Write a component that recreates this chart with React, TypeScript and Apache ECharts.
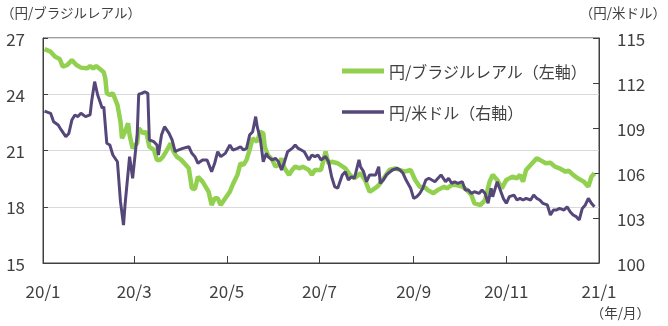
import React, { useEffect, useRef } from "react";
import * as echarts from "echarts";

const FONT = "'Noto Sans CJK JP', 'Noto Sans', sans-serif";
const TEXT = "#404040";

const brlName = "円/ブラジルレアル（左軸）";
const usdName = "円/米ドル（右軸）";

const xTickLabels = ["20/1", "20/3", "20/5", "20/7", "20/9", "20/11", "21/1"];

const brlDates = [
  "01-02","01-06","01-09","01-12","01-14","01-17","01-20","01-23","01-26","01-30",
  "02-01","02-03","02-05","02-07","02-10","02-11","02-12","02-14","02-16","02-19",
  "02-21","02-22","02-24","02-26","02-27","02-29","03-03","03-04","03-07","03-09",
  "03-11","03-14","03-16","03-18","03-20","03-22","03-25","03-27","03-29","04-01",
  "04-03","04-06","04-08","04-10","04-12","04-15","04-17","04-19","04-21","04-23",
  "04-25","04-27","04-30","05-03","05-05","05-08","05-10","05-12","05-14","05-16",
  "05-18","05-21","05-23","05-25","05-26","05-28","05-31","06-02","06-04","06-06",
  "06-08","06-11","06-13","06-15","06-18","06-20","06-24","06-26","06-28","06-30",
  "07-02","07-05","07-07","07-09","07-13","07-18","07-21","07-24","07-28","07-31",
  "08-03","08-05","08-08","08-10","08-13","08-16","08-20","08-23","08-26","08-30",
  "09-02","09-05","09-09","09-10","09-14","09-17","09-21","09-23","09-26","09-29",
  "10-03","10-06","10-09","10-11","10-15","10-18","10-21","10-23","10-26","10-29",
  "11-01","11-05","11-08","11-10","11-12","11-14","11-18","11-21","11-23","11-27",
  "11-30","12-03","12-06","12-10","12-12","12-15","12-18","12-22","12-25","12-27",
  "12-29",
];
const brlValues = [
  26.41,26.27,26.0,25.88,25.47,25.56,25.83,25.56,25.42,25.38,
  25.5,25.38,25.5,25.38,25.17,24.85,24.05,23.96,24.05,23.43,
  22.54,21.65,22.0,22.45,21.83,21.12,21.4,22.18,21.92,22.0,
  21.2,21.03,20.5,20.5,20.67,20.94,21.38,20.94,20.67,20.5,
  20.32,20.05,18.98,18.95,19.6,19.34,19.07,18.8,18.09,18.45,
  18.45,18.09,18.45,18.8,19.2,19.7,20.32,20.23,20.5,21.03,
  21.65,21.47,22.0,21.92,21.2,20.76,20.5,20.14,20.23,20.58,
  20.05,19.7,19.96,20.14,20.05,20.14,19.96,19.7,19.96,19.96,
  19.96,20.94,20.3,20.4,20.32,20.05,19.7,19.52,19.78,19.43,
  18.8,18.9,19.07,19.25,19.6,19.96,20.05,19.96,19.87,19.96,
  19.43,19.07,19.0,18.9,18.72,18.9,19.07,18.98,19.16,19.16,
  19.07,18.9,18.63,18.18,18.09,18.36,19.34,19.7,19.43,18.98,
  19.43,19.6,19.52,19.7,19.34,19.96,20.32,20.58,20.5,20.32,
  20.35,20.14,20.05,19.87,19.92,19.7,19.52,19.34,19.07,19.6,
  19.78,
];

const usdDates = [
  "01-02","01-06","01-08","01-11","01-13","01-16","01-18","01-20","01-22","01-24",
  "01-26","01-29","02-01","02-02","02-04","02-06","02-09","02-10","02-12","02-14",
  "02-16","02-19","02-21","02-23","02-24","02-27","02-29","03-03","03-04","03-06",
  "03-08","03-10","03-11","03-14","03-16","03-17","03-19","03-21","03-24","03-26",
  "03-28","03-30","04-02","04-06","04-08","04-10","04-12","04-15","04-18","04-21",
  "04-23","04-25","04-27","04-30","05-03","05-05","05-08","05-10","05-12","05-14",
  "05-16","05-18","05-20","05-21","05-23","05-25","05-27","05-28","05-31","06-02",
  "06-04","06-06","06-08","06-10","06-13","06-15","06-17","06-19","06-21","06-24",
  "06-26","06-28","06-30","07-02","07-05","07-07","07-09","07-11","07-13","07-16",
  "07-18","07-20","07-22","07-24","07-27","07-28","07-30","08-01","08-03","08-07",
  "08-09","08-10","08-12","08-14","08-18","08-21","08-23","08-25","08-27","08-30",
  "09-01","09-03","09-05","09-07","09-09","09-11","09-13","09-15","09-17","09-19",
  "09-22","09-24","09-26","09-28","09-30","10-03","10-05","10-07","10-09","10-11",
  "10-14","10-16","10-18","10-20","10-22","10-23","10-26","10-28","10-30","11-01",
  "11-03","11-06","11-08","11-10","11-12","11-14","11-17","11-19","11-21","11-23",
  "11-25","11-28","11-30","12-02","12-04","12-06","12-09","12-11","12-13","12-15",
  "12-17","12-19","12-21","12-23","12-25","12-27","12-29",
];
const usdValues = [
  110.13,109.98,109.42,109.2,108.87,108.42,108.64,109.53,109.87,109.76,
  109.98,109.76,109.87,110.76,112.09,111.2,110.31,110.42,107.98,107.87,
  107.2,106.75,104.09,102.53,103.87,107.09,105.65,108.53,111.25,111.31,
  111.42,111.31,108.2,108.09,107.87,107.2,108.53,109.09,108.64,108.2,
  107.42,107.53,107.64,107.75,107.31,107.09,106.65,106.87,106.87,106.09,
  106.65,107.42,107.09,107.31,107.87,107.53,107.64,107.75,107.53,107.64,
  108.53,108.75,109.76,109.09,108.31,106.75,107.31,107.09,106.87,106.98,
  106.75,106.2,106.75,107.42,107.64,107.87,107.64,107.53,107.42,106.87,
  107.2,107.09,107.2,106.87,107.1,106.75,105.75,105.09,104.98,105.87,
  106.09,105.53,105.75,105.65,106.87,106.42,106.09,105.42,105.87,105.87,
  106.42,105.31,105.53,105.87,106.2,106.31,106.2,105.98,105.53,104.98,
  104.31,104.42,104.64,104.98,105.53,105.65,105.53,105.42,105.65,105.87,
  105.42,105.65,105.31,105.42,105.31,105.42,104.87,104.87,104.64,104.75,
  104.64,104.87,104.64,103.98,104.98,104.42,105.42,104.87,104.31,103.98,
  104.42,104.53,104.2,104.31,104.2,104.31,104.2,104.53,104.31,104.2,
  103.98,103.87,103.2,103.53,103.53,103.64,103.53,103.75,103.42,103.2,
  103.09,102.87,103.64,103.87,104.31,103.98,103.75,
];

function buildDays(): string[] {
  const out: string[] = [];
  const start = Date.UTC(2020, 0, 1);
  const end = Date.UTC(2021, 0, 1);
  for (let t = start; t <= end; t += 86400000) {
    out.push(new Date(t).toISOString().slice(0, 10));
  }
  return out;
}

export default function App() {
  const ref = useRef<HTMLDivElement>(null);
  useEffect(() => {
    if (!ref.current) return;
    const chart = echarts.init(ref.current, null, { renderer: "svg" });
    const days = buildDays();
    const isTick = (_i: number, v: string) => {
      const m = parseInt(v.slice(5, 7), 10);
      return v.slice(8, 10) === "01" && m % 2 === 1;
    };
    const labelFor = (v: string) => {
      const y = v.slice(2, 4);
      const m = parseInt(v.slice(5, 7), 10);
      const s = `${y}/${m}`;
      return xTickLabels.includes(s) ? s : "";
    };
    const brlData = brlDates.map((d, i) => ["2020-" + d, brlValues[i]]);
    const usdData = usdDates.map((d, i) => ["2020-" + d, usdValues[i]]);

    chart.setOption({
      animation: false,
      textStyle: { fontFamily: FONT },
      grid: {
        left: 43,
        right: 69,
        top: 38,
        bottom: 63,
        show: true,
        borderColor: "#404040",
        borderWidth: 1,
      },
      legend: {
        orient: "vertical",
        left: 337,
        top: 58,
        itemWidth: 42,
        itemHeight: 16,
        itemGap: 25,
        itemStyle: { borderWidth: 0 },
        data: [
          { name: brlName, icon: "path://M0,0H42V5H0Z" },
          { name: usdName, icon: "path://M0,0H42V3.5H0Z" },
        ],
        textStyle: { fontSize: 16, color: TEXT, fontFamily: FONT, lineHeight: 16 },
      },
      xAxis: {
        type: "category",
        data: days,
        boundaryGap: false,
        axisLine: { lineStyle: { color: "#404040", width: 1 } },
        axisTick: { inside: true, length: 7, interval: isTick, lineStyle: { color: "#404040" } },
        axisLabel: {
          interval: isTick,
          formatter: labelFor,
          fontSize: 17,
          color: TEXT,
          margin: 19,
          fontFamily: FONT,
        },
        splitLine: { show: false },
      },
      yAxis: [
        {
          type: "value",
          min: 15,
          max: 27,
          interval: 3,
          position: "left",
          axisLine: { show: true, lineStyle: { color: "#404040" } },
          axisTick: { show: true, inside: true, length: 5, lineStyle: { color: "#404040" } },
          axisLabel: { fontSize: 17, color: TEXT, margin: 18, fontFamily: FONT },
          splitLine: { show: true, lineStyle: { color: "#d9d9d9", width: 1 } },
        },
        {
          type: "value",
          min: 100,
          max: 115,
          interval: 3,
          position: "right",
          axisLine: { show: true, lineStyle: { color: "#404040" } },
          axisTick: { show: true, inside: true, length: 6, lineStyle: { color: "#404040" } },
          axisLabel: { fontSize: 17, color: TEXT, margin: 18, fontFamily: FONT },
          splitLine: { show: false },
        },
      ],
      series: [
        {
          name: brlName,
          type: "line",
          yAxisIndex: 0,
          data: brlData,
          showSymbol: false,
          symbol: "none",
          lineStyle: { color: "#92D050", width: 4.5 },
          itemStyle: { color: "#92D050" },
        },
        {
          name: usdName,
          type: "line",
          yAxisIndex: 1,
          data: usdData,
          showSymbol: false,
          symbol: "none",
          lineStyle: { color: "#56477A", width: 3 },
          itemStyle: { color: "#56477A" },
        },
      ],
      graphic: [
        {
          type: "text",
          left: 1,
          top: 5,
          style: { text: "（円/ブラジルレアル）", fontSize: 13.5, fill: TEXT, fontFamily: FONT },
        },
        {
          type: "text",
          right: 2,
          top: 5,
          style: { text: "（円/米ドル）", fontSize: 13.5, fill: TEXT, fontFamily: FONT },
        },
        {
          type: "text",
          right: 18,
          top: 305,
          style: { text: "（年/月）", fontSize: 13.5, fill: TEXT, fontFamily: FONT },
        },
      ],
    });
    return () => chart.dispose();
  }, []);
  return (
    <div
      ref={ref}
      style={{ position: "fixed", left: 0, top: 0, width: 668, height: 326 }}
    />
  );
}
